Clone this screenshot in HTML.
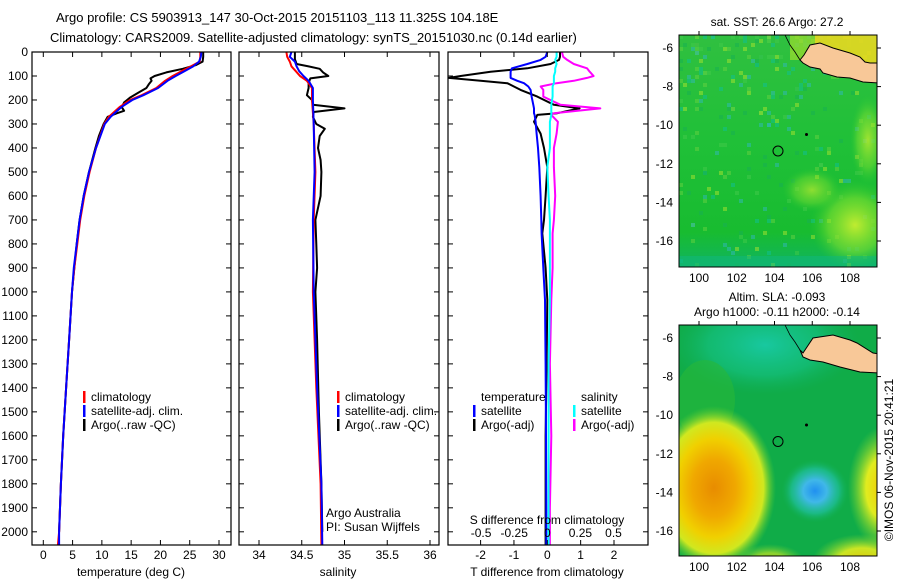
<!DOCTYPE html>
<html><head><meta charset="utf-8">
<style>
html,body{margin:0;padding:0;background:#fff;}
svg{display:block;font-family:"Liberation Sans",sans-serif;}
text{fill:#000;}
</style></head>
<body>
<svg id="chart" width="900" height="580" viewBox="0 0 900 580" xmlns="http://www.w3.org/2000/svg">
<defs>
  <radialGradient id="gOrange" cx="0.5" cy="0.5" r="0.5"><stop offset="0" stop-color="#e88c00"/><stop offset="0.35" stop-color="#f0a800"/><stop offset="0.6" stop-color="#f0d000"/><stop offset="0.8" stop-color="#d0e820"/><stop offset="1" stop-color="#60d030" stop-opacity="0"/></radialGradient>
  <radialGradient id="gBlue" cx="0.5" cy="0.5" r="0.5"><stop offset="0" stop-color="#2090f0"/><stop offset="0.35" stop-color="#40b8e8"/><stop offset="0.7" stop-color="#20c0a0" stop-opacity="0.7"/><stop offset="1" stop-color="#10b050" stop-opacity="0"/></radialGradient>
  <radialGradient id="gYellow" cx="0.5" cy="0.5" r="0.5"><stop offset="0" stop-color="#f4c800"/><stop offset="0.5" stop-color="#e0ec20"/><stop offset="1" stop-color="#80d830" stop-opacity="0"/></radialGradient>
  <radialGradient id="gTeal" cx="0.5" cy="0.5" r="0.5"><stop offset="0" stop-color="#18c8a0"/><stop offset="0.6" stop-color="#14c080" stop-opacity="0.7"/><stop offset="1" stop-color="#10b060" stop-opacity="0"/></radialGradient>
  <radialGradient id="gSstY" cx="0.5" cy="0.5" r="0.5"><stop offset="0" stop-color="#c0ec30"/><stop offset="0.6" stop-color="#80e030" stop-opacity="0.6"/><stop offset="1" stop-color="#30c830" stop-opacity="0"/></radialGradient>
  <linearGradient id="gSstBase" x1="0" y1="0" x2="0" y2="1"><stop offset="0" stop-color="#30c040"/><stop offset="0.45" stop-color="#20c038"/><stop offset="0.85" stop-color="#18bc30"/><stop offset="1" stop-color="#10b460"/></linearGradient>
  <clipPath id="clipMap1"><rect x="679" y="35" width="198" height="232"/></clipPath>
  <clipPath id="clipMap2"><rect x="679" y="325" width="198" height="231"/></clipPath>
  <clipPath id="clipP3"><rect x="448" y="52" width="200" height="493"/></clipPath>
</defs>

<text x="56" y="22" font-size="13">Argo profile: CS 5903913_147 30-Oct-2015 20151103_113 11.325S 104.18E</text>
<text x="50" y="42" font-size="13">Climatology: CARS2009. Satellite-adjusted climatology: synTS_20151030.nc (0.14d earlier)</text>

<g id="p1"></g>
<g id="p2"></g>
<g id="p3"></g>

<!-- SST map -->
<g>
  <g clip-path="url(#clipMap1)">
    <rect x="679" y="35" width="198" height="232" fill="url(#gSstBase)"/>
    <g id="speckles"></g>
    <ellipse cx="855" cy="225" rx="45" ry="45" fill="url(#gSstY)"/>
    <ellipse cx="812" cy="190" rx="30" ry="22" fill="url(#gSstY)" opacity="0.7"/>
    <ellipse cx="868" cy="140" rx="18" ry="45" fill="url(#gSstY)" opacity="0.8"/>
    <rect x="815" y="35" width="62" height="28" fill="#e8d820" opacity="0.9"/>
    <rect x="790" y="35" width="25" height="25" fill="#90d830" opacity="0.8"/>
    <rect x="679" y="256" width="198" height="11" fill="#10b880" opacity="0.5"/>
    <polygon points="800,60 804,55 810,45 820,43 833,48 850,53 860,57 865,62 870,63 880,63 880,83 863,82 850,78 837,77 823,73 820,69 810,67 803,63" fill="#f8c898" stroke="#000" stroke-width="1"/>
    <polyline points="785,35 790,45 795,52 800,60" fill="none" stroke="#000" stroke-width="0.8"/>
    <circle cx="806.5" cy="134.5" r="1.5" fill="#000"/>
    <circle cx="778" cy="151" r="5" fill="none" stroke="#000" stroke-width="1"/>
  </g>
  <rect x="679" y="35" width="198" height="232" fill="none" stroke="#000" stroke-width="1"/>
  <text x="777" y="26" font-size="12" text-anchor="middle">sat. SST: 26.6 Argo: 27.2</text>
  <g id="m1axes"></g>
</g>

<!-- Altimetry map -->
<g>
  <g clip-path="url(#clipMap2)">
    <rect x="679" y="325" width="198" height="231" fill="#10ac48"/>
    <ellipse cx="765" cy="345" rx="95" ry="50" fill="url(#gTeal)"/>
    <ellipse cx="705" cy="400" rx="30" ry="40" fill="#28b838" opacity="0.6"/>
    <ellipse cx="714" cy="488" rx="62" ry="82" fill="url(#gOrange)"/>
    <ellipse cx="884" cy="488" rx="36" ry="62" fill="url(#gYellow)"/>
    <ellipse cx="862" cy="562" rx="50" ry="28" fill="url(#gYellow)" opacity="0.9"/>
    <ellipse cx="770" cy="562" rx="35" ry="18" fill="url(#gYellow)" opacity="0.6"/>
    <ellipse cx="815" cy="491" rx="34" ry="32" fill="url(#gBlue)"/>
    <polygon points="800,350 803,353 813,338 833,335 850,340 857,343 873,353 880,354 880,373 860,372 840,367 823,362 810,360 803,357" fill="#f8c898" stroke="#000" stroke-width="1"/>
    <polyline points="785,325 790,335 795,342 800,350" fill="none" stroke="#000" stroke-width="0.8"/>
    <circle cx="806.5" cy="425" r="1.5" fill="#000"/>
    <circle cx="778" cy="441.5" r="5" fill="none" stroke="#000" stroke-width="1"/>
  </g>
  <rect x="679" y="325" width="198" height="231" fill="none" stroke="#000" stroke-width="1"/>
  <text x="777" y="301" font-size="12" text-anchor="middle">Altim. SLA: -0.093</text>
  <text x="777" y="316" font-size="12" text-anchor="middle">Argo h1000: -0.11 h2000: -0.14</text>
  <g id="m2axes"></g>
</g>
<text transform="translate(893,460) rotate(-90)" font-size="12" text-anchor="middle">©IMOS 06-Nov-2015 20:41:21</text>
</svg>

<script>
// ---------- data ----------
const depthTicks = [0,100,200,300,400,500,600,700,800,900,1000,1100,1200,1300,1400,1500,1600,1700,1800,1900,2000];
const tempTicks = [0,5,10,15,20,25,30];
const salTicks = [34,34.5,35,35.5,36];
const tDiffTicks = [-2,-1,0,1,2];
const sDiffTicks = [-0.5,-0.25,0,0.25,0.5];

const climTempDepth = [0,20,40,60,80,100,120,150,180,200,230,270,300,400,500,600,700,800,900,1000,1200,1400,1600,1800,2000,2055];
const climTemp      = [26.8,26.8,26.7,25.2,23.6,22.1,20.8,19.3,16.8,14.8,13.0,11.2,10.4,9.0,7.9,7.0,6.3,5.8,5.3,4.9,4.4,3.9,3.4,3.0,2.7,2.5];
const satTemp       = [27.0,26.9,26.6,25.6,24.1,22.6,21.2,19.6,17.1,15.2,13.3,11.5,10.5,9.0,7.8,6.9,6.2,5.7,5.2,4.9,4.4,3.9,3.4,3.0,2.7,2.7];
const argoTempDepth = [0,20,40,55,70,85,100,110,120,135,150,170,190,210,230,245,255,270,300,350,400,500,600,700,800,900,1000,1200,1400,1600,1800,2000];
const argoTemp      = [27.3,27.3,27.2,26.0,23.8,21.0,19.0,18.3,18.5,18.0,17.6,16.2,14.8,13.8,13.4,13.8,12.6,11.0,10.3,9.5,8.9,7.8,6.9,6.2,5.7,5.3,4.9,4.4,3.9,3.4,3.0,2.7];

const climSalDepth = [0,20,40,60,80,100,120,150,200,300,500,700,1000,1400,1800,2055];
const climSal      = [34.32,34.33,34.36,34.38,34.43,34.48,34.56,34.62,34.62,34.64,34.66,34.64,34.63,34.67,34.72,34.73];
const satSal       = [34.38,34.36,34.42,34.44,34.47,34.52,34.58,34.63,34.63,34.64,34.65,34.63,34.64,34.68,34.73,34.74];
const argoSalDepth = [0,30,50,60,70,85,100,110,130,150,180,200,220,235,250,270,300,320,350,400,450,500,600,700,800,900,1000,1200,1500,1800,2000];
const argoSal      = [34.42,34.42,34.44,34.58,34.71,34.75,34.81,34.60,34.58,34.58,34.56,34.62,34.63,35.00,34.64,34.63,34.67,34.77,34.71,34.69,34.72,34.73,34.72,34.66,34.67,34.68,34.66,34.68,34.70,34.73,34.74];

const diffDepth = [0,20,33,50,68,82,100,108,120,130,144,158,186,220,235,255,262,291,340,400,480,600,700,756,900,1033,1300,1600,1900,2055];
const satTDiff  = [0,-0.05,-0.2,-0.6,-1.06,-1.1,-1.1,-1.1,-0.9,-0.7,-0.57,-0.5,-0.47,-0.42,-0.4,-0.4,-0.38,-0.35,-0.32,-0.28,-0.24,-0.2,-0.18,-0.17,-0.12,-0.07,-0.05,-0.04,-0.03,-0.03];
const argoTDiff = [0.38,0.38,0.35,0.1,-0.6,-1.7,-2.6,-2.95,-2.0,-1.2,-1.0,-0.8,-0.3,0.2,0.97,0.3,-0.3,-0.4,-0.2,-0.1,0,-0.05,-0.1,-0.15,-0.05,0,-0.02,-0.05,-0.05,-0.05];
const satSDiff  = [0.07,0.07,0.06,0.07,0.06,0.06,0.05,0.05,0.05,0.05,0.04,0.04,0.04,0.03,0.03,0.03,0.03,0.02,0.02,0.02,0.0,0.01,0.02,0.02,0.02,0.02,0.01,0.01,0.01,0.01];
const argoSDiff = [0.11,0.12,0.15,0.20,0.30,0.32,0.35,0.30,0.20,0.07,-0.05,-0.03,-0.03,0.1,0.4,0.05,0.03,0.08,0.07,0.05,0.05,0.06,0.05,0.04,0.04,0.03,0.02,0.03,0.02,0.02];

const mapLons = [100,102,104,106,108];
const mapLats = [-6,-8,-10,-12,-14,-16];

// ---------- helpers ----------
const NS = "http://www.w3.org/2000/svg";
function mk(tag, attrs, parent){ const e=document.createElementNS(NS,tag); for(const k in attrs) e.setAttribute(k,attrs[k]); parent.appendChild(e); return e; }
const Y0=52, Y1=545, DMAX=2055;
function yD(d){ return Y0 + d*(Y1-Y0)/DMAX; }
function linScale(v0,p0,v1,p1){ return v=> p0 + (v-v0)*(p1-p0)/(v1-v0); }

function frame(g, x0, x1, name){
  const r = mk('rect',{x:x0,y:Y0,width:x1-x0,height:Y1-Y0,fill:'none',stroke:'#000','stroke-width':1.2},g);
  
  
  depthTicks.forEach(d=>{
    const y=yD(d);
    const t1=mk('line',{x1:x0,x2:x0+5,y1:y,y2:y,stroke:'#000'},g);
    
    
    const t2=mk('line',{x1:x1-5,x2:x1,y1:y,y2:y,stroke:'#000'},g);
    
    
  });
}
function xTicks(g, ticks, sx, labelY, name, withMarks){
  ticks.forEach(v=>{
    const x=sx(v);
    if(withMarks){
      const a=mk('line',{x1:x,x2:x,y1:Y1,y2:Y1-5,stroke:'#000'},g);
      
      
      const b=mk('line',{x1:x,x2:x,y1:Y0,y2:Y0+5,stroke:'#000'},g);
      
      
    }
    const t=mk('text',{x:x,y:labelY,'font-size':12,'text-anchor':'middle'},g);
    t.textContent=String(v);
    
    
  });
}
function line(g, depths, vals, sx, color, name, w){
  const pts = depths.map((d,i)=> sx(vals[i]).toFixed(1)+','+yD(d).toFixed(1)).join(' ');
  const p = mk('polyline',{points:pts,fill:'none',stroke:color,'stroke-width':w||2,'stroke-linejoin':'round'},g);
  
  
}
function legend(g, x, y, color, label, name){
  const r=mk('rect',{x:x,y:y-10,width:2.5,height:12,fill:color},g);
  
  
  const t=mk('text',{x:x+8,y:y,'font-size':12},g);
  t.textContent=label;
  
  
}

// ---------- panel 1 ----------
const p1=document.getElementById('p1');
const sT = linScale(0,43.3,30,219);
line(p1, argoTempDepth, argoTemp, sT, '#000', 'argo-temperature-line');
line(p1, climTempDepth, climTemp, sT, '#f00', 'climatology-temperature-line');
line(p1, climTempDepth, satTemp, sT, '#00f', 'satellite-temperature-line');
frame(p1, 32, 231, 'temperature-panel');
depthTicks.forEach(d=>{
  const t=mk('text',{x:28,y:yD(d)+4,'font-size':12,'text-anchor':'end'},p1);
  t.textContent=String(d);
  
  
});
xTicks(p1, tempTicks, sT, 559, 'temperature', true);
{const t=mk('text',{x:131,y:576,'font-size':12,'text-anchor':'middle'},p1); t.textContent='temperature (deg C)';
 }
legend(p1, 83, 401, '#f00', 'climatology', 'legend-climatology');
legend(p1, 83, 415, '#00f', 'satellite-adj. clim.', 'legend-satellite-adj');
legend(p1, 83, 429, '#000', 'Argo(..raw -QC)', 'legend-argo');

// ---------- panel 2 ----------
const p2=document.getElementById('p2');
const sS = linScale(34,259,36,430);
line(p2, argoSalDepth, argoSal, sS, '#000', 'argo-salinity-line');
line(p2, climSalDepth, climSal, sS, '#f00', 'climatology-salinity-line');
line(p2, climSalDepth, satSal, sS, '#00f', 'satellite-salinity-line');
frame(p2, 239, 439, 'salinity-panel');
xTicks(p2, salTicks, sS, 559, 'salinity', true);
{const t=mk('text',{x:338,y:576,'font-size':12,'text-anchor':'middle'},p2); t.textContent='salinity';
 }
legend(p2, 337, 401, '#f00', 'climatology', 'legend-climatology-2');
legend(p2, 337, 415, '#00f', 'satellite-adj. clim.', 'legend-satellite-adj-2');
legend(p2, 337, 429, '#000', 'Argo(..raw -QC)', 'legend-argo-2');
{const t=mk('text',{x:326,y:517,'font-size':12},p2); t.textContent='Argo Australia';
 
const t2=mk('text',{x:326,y:531,'font-size':12},p2); t2.textContent='PI: Susan Wijffels';
 }

// ---------- panel 3 ----------
const p3=document.getElementById('p3');
const sTD = linScale(0,547.3,2,614);
const sSD = linScale(0,547.3,0.5,613.5);
const cg = mk('g',{'clip-path':'url(#clipP3)'},p3);


line(cg, diffDepth, argoTDiff, sTD, '#000', 'argo-temperature-diff-line');
line(cg, diffDepth, satTDiff, sTD, '#00f', 'satellite-temperature-diff-line');
line(cg, diffDepth, argoSDiff, sSD, '#f0f', 'argo-salinity-diff-line');
line(cg, diffDepth, satSDiff, sSD, '#0ff', 'satellite-salinity-diff-line');
frame(p3, 448, 648, 'difference-panel');
xTicks(p3, tDiffTicks, sTD, 559, 't-diff', true);
xTicks(p3, sDiffTicks, sSD, 537, 's-diff', false);
{const t=mk('text',{x:547,y:576,'font-size':12,'text-anchor':'middle'},p3); t.textContent='T difference from climatology';
 
const t2=mk('text',{x:547,y:524,'font-size':12,'text-anchor':'middle'},p3); t2.textContent='S difference from climatology';
 
const t3=mk('text',{x:481,y:401,'font-size':12},p3); t3.textContent='temperature';
 
const t4=mk('text',{x:581,y:401,'font-size':12},p3); t4.textContent='salinity';
 }
legend(p3, 473, 415, '#00f', 'satellite', 'legend-t-satellite');
legend(p3, 473, 429, '#000', 'Argo(-adj)', 'legend-t-argo');
legend(p3, 573, 415, '#0ff', 'satellite', 'legend-s-satellite');
legend(p3, 573, 429, '#f0f', 'Argo(-adj)', 'legend-s-argo');

// ---------- map axes ----------
function mapAxes(gid, top, bot, lat6y, lat16y, name){
  const g=document.getElementById(gid);
  const sx=linScale(100,699,108,850);
  const sy=linScale(-6,lat6y,-16,lat16y);
  mapLons.forEach(v=>{
    const x=sx(v);
    const a=mk('line',{x1:x,x2:x,y1:top,y2:top-4,stroke:'#000'},g);
     
    const t=mk('text',{x:x,y:bot+15,'font-size':12,'text-anchor':'middle'},g); t.textContent=String(v);
     
  });
  mapLats.forEach(v=>{
    const y=sy(v);
    const a=mk('line',{x1:877,x2:881,y1:y,y2:y,stroke:'#000'},g);
     
    const t=mk('text',{x:673,y:y+4,'font-size':12,'text-anchor':'end'},g); t.textContent=String(v);
     
  });
}
mapAxes('m1axes', 35, 267, 48, 241, 'sst-map');
mapAxes('m2axes', 325, 556, 338, 531, 'sla-map');

// SST speckles (texture)
const sp=document.getElementById('speckles');
const speckCols=['#10c090','#a0e030','#30b8b0','#60d040','#18b050','#40c848'];
let seed=7; function rnd(){ seed=(seed*9301+49297)%233280; return seed/233280; }
for(let i=0;i<320;i++){
  const x=679+Math.floor(rnd()*50)*4;
  const y=35+Math.floor(Math.pow(rnd(),1.6)*58)*4;
  const r=mk('rect',{x:x,y:y,width:4,height:4,fill:speckCols[i%6],opacity:0.55},sp);
  
  
}
</script>
</body></html>
